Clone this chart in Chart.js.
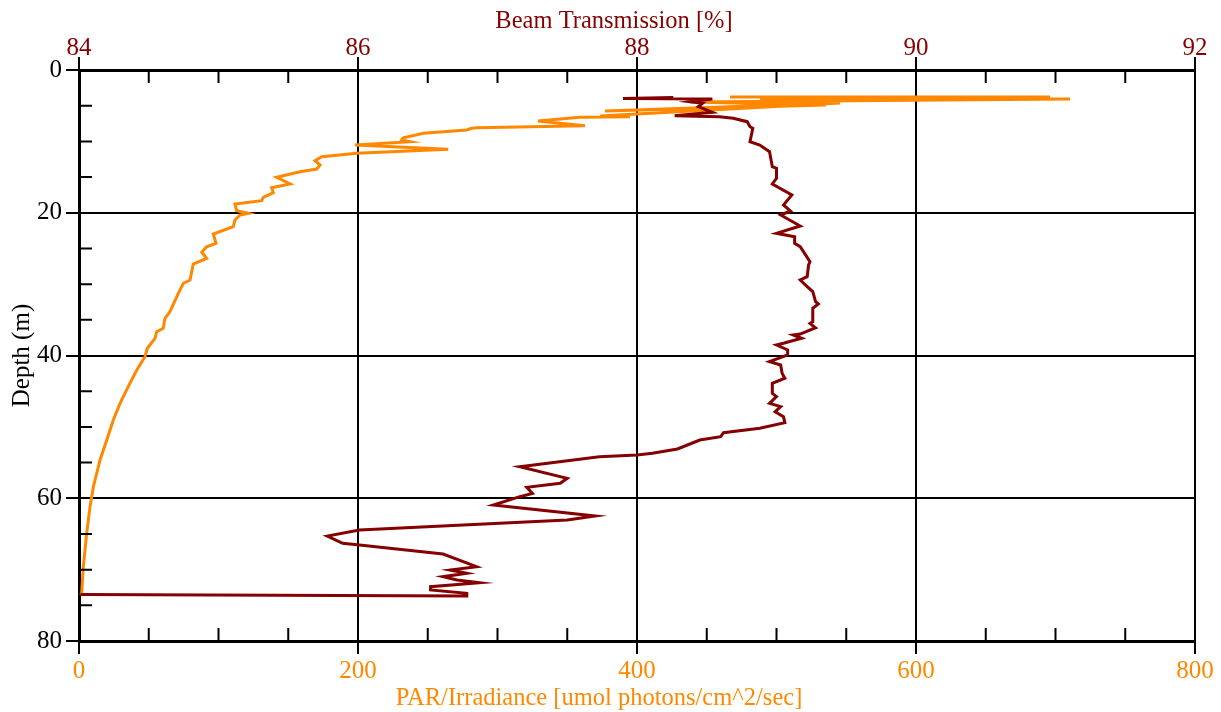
<!DOCTYPE html>
<html>
<head>
<meta charset="utf-8">
<title>PAR and Beam Transmission profile</title>
<script src="https://cdn.jsdelivr.net/npm/chart.js@4.4.1/dist/chart.umd.min.js"></script>
<style>
  html, body { margin: 0; padding: 0; background: #fff; }
  #profile { display: block; }
</style>
</head>
<body>
<canvas id="profile" width="1221" height="712"></canvas>
<script>
const canvas = document.querySelector("#profile");

// axis ticks
const parTicks = [0, 200, 400, 600, 800];
const beamTicks = [84, 86, 88, 90, 92];
const depthTicks = [0, 20, 40, 60, 80];

// PAR / irradiance cast (umol photons/cm^2/sec vs depth in m)
const parDepth = [3.78, 3.78, 3.99, 4.06, 4.48, 4.90, 5.74, 4.62, 6.44, 6.54, 6.63, 7.15, 7.80, 8.08, 8.17,
  8.41, 8.87, 9.49, 9.81, 10.05, 10.51, 11.11, 11.67, 12.15, 12.71, 13.31, 13.87, 14.25, 15.03, 15.97,
  16.49, 17.19, 17.84, 18.31, 18.77, 19.71, 20.08, 20.32, 21.02, 21.95, 22.98, 24.28, 24.76, 25.54,
  26.38, 27.18, 29.42, 29.88, 31.29, 33.86, 34.79, 36.19, 36.67, 37.59, 38.99, 40.17, 42.03, 44.37,
  46.70, 49.04, 51.84, 54.64, 58.38, 61.18, 64.91, 69.59, 73.32, 73.56];
const parValues = [466.7, 696.1, 488.2, 710.4, 438.0, 535.5, 377.1, 545.5, 373.5, 395.0, 359.1, 329.0, 362.7, 285.3, 281.5,
  277.9, 246.8, 232.5, 231.3, 237.3, 197.8, 264.7, 199.1, 174.0, 169.2, 172.8, 170.4, 158.4, 141.7, 151.3,
  138.1, 139.3, 132.1, 131.0, 111.8, 113.0, 121.4, 115.4, 111.8, 110.6, 96.3, 98.2, 91.5, 88.0,
  91.5, 81.9, 79.6, 74.8, 71.2, 65.2, 61.6, 60.4, 55.7, 54.5, 49.0, 47.3, 41.4, 35.3,
  29.4, 24.6, 19.9, 15.1, 10.3, 7.9, 5.5, 3.1, 1.9, 1.1];

// beam transmission cast (% vs depth in m)
const beamDepth = [3.85, 3.99, 4.06, 4.44, 4.67, 5.14, 5.93, 6.40, 6.54, 6.77, 7.24, 7.94, 8.17, 10.05, 10.51,
  11.45, 13.55, 13.77, 15.17, 15.97, 17.51, 18.91, 19.75, 20.32, 21.86, 22.88, 23.36, 24.28, 24.76,
  26.86, 27.32, 28.96, 29.42, 30.36, 31.06, 32.46, 32.78, 33.39, 35.26, 35.49, 36.11, 36.99, 37.13,
  37.59, 38.29, 38.53, 39.23, 39.93, 40.87, 41.33, 42.49, 43.19, 43.89, 45.30, 45.77, 46.70, 47.17,
  47.87, 48.57, 49.42, 50.20, 50.82, 51.38, 51.84, 53.10, 53.70, 53.94, 54.18, 55.58, 57.21, 57.91,
  58.47, 59.31, 59.78, 60.95, 62.49, 63.05, 64.45, 65.29, 66.31, 66.55, 67.81, 69.59, 70.05, 70.52,
  70.99, 71.45, 71.83, 72.39, 72.85, 73.32, 73.69, 73.49];
const beamValues = [88.26, 87.90, 88.54, 88.38, 88.47, 88.44, 88.54, 88.27, 88.59, 88.69, 88.79, 88.81, 88.83, 88.81, 88.88,
  88.95, 88.97, 89.00, 89.00, 88.97, 89.11, 89.05, 89.10, 89.03, 89.17, 89.00, 89.13, 89.13, 89.17,
  89.24, 89.23, 89.22, 89.17, 89.22, 89.26, 89.28, 89.30, 89.26, 89.26, 89.24, 89.28, 89.17, 89.12,
  89.18, 89.05, 89.00, 89.08, 89.08, 88.95, 89.03, 89.04, 89.06, 88.97, 88.97, 89.00, 88.95, 89.03,
  88.99, 89.05, 89.06, 88.88, 88.62, 88.60, 88.45, 88.29, 88.11, 88.00, 87.73, 87.16, 87.50, 87.45,
  87.21, 87.25, 87.16, 86.97, 87.70, 87.50, 86.01, 85.78, 85.89, 86.01, 86.61, 86.85, 86.66, 86.78,
  86.61, 86.71, 86.87, 86.52, 86.52, 86.78, 86.78, 84.01];

const ORANGE = "#ff8800";
const MAROON = "#850000";
const FONT = "'Liberation Serif', 'DejaVu Serif', serif";

const parTitle = "PAR/Irradiance [umol photons/cm^2/sec]";
const beamTitle = "Beam Transmission [%]";

const parPoints = parValues.map((v, i) => ({ x: v, y: parDepth[i] }));
const beamPoints = beamValues.map((v, i) => ({ x: v, y: beamDepth[i] }));

// short inward ticks between the labelled ones
const minorTicks = {
  id: "minorTicks",
  afterDraw(chart) {
    const { ctx, chartArea, scales } = chart;
    const len = 13;
    ctx.save();
    ctx.strokeStyle = "#000";
    ctx.lineWidth = 2;
    ctx.beginPath();
    for (let v = 50; v < 800; v += 50) {
      if (v % 200 === 0) continue;
      const px = scales.x.getPixelForValue(v);
      ctx.moveTo(px, chartArea.bottom);
      ctx.lineTo(px, chartArea.bottom - len);
      ctx.moveTo(px, chartArea.top);
      ctx.lineTo(px, chartArea.top + len);
    }
    for (let d = 5; d < 80; d += 5) {
      if (d % 20 === 0) continue;
      const py = scales.y.getPixelForValue(d);
      ctx.moveTo(chartArea.left, py);
      ctx.lineTo(chartArea.left + len, py);
    }
    ctx.stroke();
    ctx.restore();
  }
};

// the x axis titles sit a little left of the plot centre
const axisTitles = {
  id: "axisTitles",
  afterDraw(chart) {
    const { ctx, chartArea } = chart;
    const mid = (chartArea.left + chartArea.right) / 2;
    ctx.save();
    ctx.font = "24.5px " + FONT;
    ctx.textAlign = "center";
    ctx.textBaseline = "middle";
    ctx.fillStyle = MAROON;
    ctx.fillText(beamTitle, mid - 23, chartArea.top - 48);
    ctx.fillStyle = ORANGE;
    ctx.fillText(parTitle, mid - 38, chartArea.bottom + 58);
    ctx.restore();
  }
};

new Chart(canvas, {
  type: "scatter",
  data: {
    datasets: [
      {
        label: "Beam Transmission",
        data: beamPoints,
        xAxisID: "x2",
        yAxisID: "y",
        showLine: true,
        borderColor: MAROON,
        borderWidth: 3,
        pointRadius: 0,
        tension: 0
      },
      {
        label: "PAR/Irradiance",
        data: parPoints,
        xAxisID: "x",
        yAxisID: "y",
        showLine: true,
        borderColor: ORANGE,
        borderWidth: 3,
        pointRadius: 0,
        tension: 0
      }
    ]
  },
  options: {
    responsive: false,
    animation: false,
    devicePixelRatio: 1,
    layout: { padding: { left: 0, right: 26, top: 0, bottom: 0 } },
    plugins: {
      legend: { display: false },
      tooltip: { enabled: false }
    },
    scales: {
      x: {
        type: "linear",
        position: "bottom",
        min: parTicks[0],
        max: parTicks[parTicks.length - 1],
        afterBuildTicks: s => { s.ticks = parTicks.map(v => ({ value: v })); },
        afterFit: s => { s.height = 71; },
        grid: { color: "#000", lineWidth: 2, tickLength: 13 },
        border: { color: "#000", width: 3 },
        ticks: { color: ORANGE, padding: 2, font: { family: FONT, size: 25 } }
      },
      x2: {
        type: "linear",
        position: "top",
        min: beamTicks[0],
        max: beamTicks[beamTicks.length - 1],
        afterBuildTicks: s => { s.ticks = beamTicks.map(v => ({ value: v })); },
        afterFit: s => { s.height = 70; },
        grid: { drawOnChartArea: false, color: "#000", lineWidth: 2, tickLength: 13 },
        border: { color: "#000", width: 3 },
        ticks: { color: MAROON, padding: -6, font: { family: FONT, size: 25 } }
      },
      y: {
        type: "linear",
        position: "left",
        reverse: true,
        min: depthTicks[0],
        max: depthTicks[depthTicks.length - 1],
        afterBuildTicks: s => { s.ticks = depthTicks.map(v => ({ value: v })); },
        afterFit: s => { s.width = 79; },
        grid: { color: "#000", lineWidth: 2, tickLength: 13 },
        border: { color: "#000", width: 3 },
        ticks: { color: "#000", padding: 4, font: { family: FONT, size: 25 } },
        title: {
          display: true,
          text: "Depth (m)",
          color: "#000",
          font: { family: FONT, size: 25 },
          padding: { top: 7, bottom: 0 }
        }
      }
    }
  },
  plugins: [minorTicks, axisTitles]
});
</script>
</body>
</html>
